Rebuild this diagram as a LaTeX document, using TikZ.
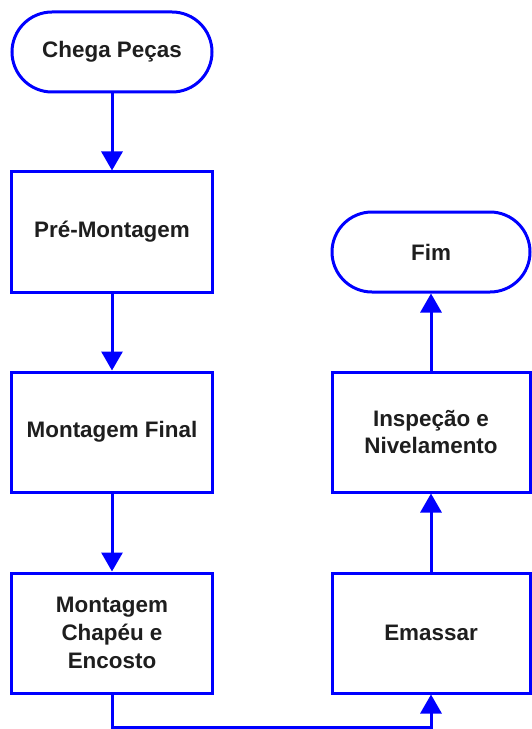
\documentclass[tikz,border=0pt]{standalone}
\usepackage{fontspec}
\setmainfont{Liberation Sans}
\usetikzlibrary{arrows.meta}
\definecolor{flowblue}{RGB}{0,0,255}
\definecolor{txtgray}{RGB}{30,30,30}
\begin{document}
\begin{tikzpicture}[x=1bp,y=-1bp,
  base/.style={draw=flowblue, line width=3bp, fill=white, text=txtgray,
    font=\bfseries\fontsize{22.5}{28}\selectfont, align=center, inner sep=0pt},
  procbox/.style={base, minimum width=200bp, minimum height=120bp},
  rprocbox/.style={base, minimum width=198bp, minimum height=120bp},
  termbox/.style={base, minimum width=200bp, minimum height=80bp, rounded corners=40bp},
  rtermbox/.style={base, minimum width=198bp, minimum height=80bp, rounded corners=40bp},
  flowarrow/.style={draw=flowblue, line width=3bp, -{Triangle[width=21bp,length=19bp]}}]
\useasboundingbox (0,0) rectangle (532,729);
\node[termbox] (chega) at (112,52) {Chega Peças};
\node[procbox] (pre) at (112,232) {Pré-Montagem};
\node[procbox] (mfinal) at (112,432) {Montagem Final};
\node[procbox] (mce) at (112,633) {Montagem\\Chapéu e\\Encosto};
\node[rprocbox] (emassar) at (431,633) {Emassar};
\node[rprocbox] (insp) at (431,432) {Inspeção e\\Nivelamento};
\node[rtermbox] (fim) at (431,252) {Fim};
\coordinate (b1) at (112,727);
\coordinate (b2) at (431,727);
\draw[flowarrow] (chega) -- (pre);
\draw[flowarrow] (pre) -- (mfinal);
\draw[flowarrow] (mfinal) -- (mce);
\draw[flowarrow] (mce.south) -- (b1) -- (b2) -- (emassar.south);
\draw[flowarrow] (emassar) -- (insp);
\draw[flowarrow] (insp) -- (fim);
\end{tikzpicture}
\end{document}
